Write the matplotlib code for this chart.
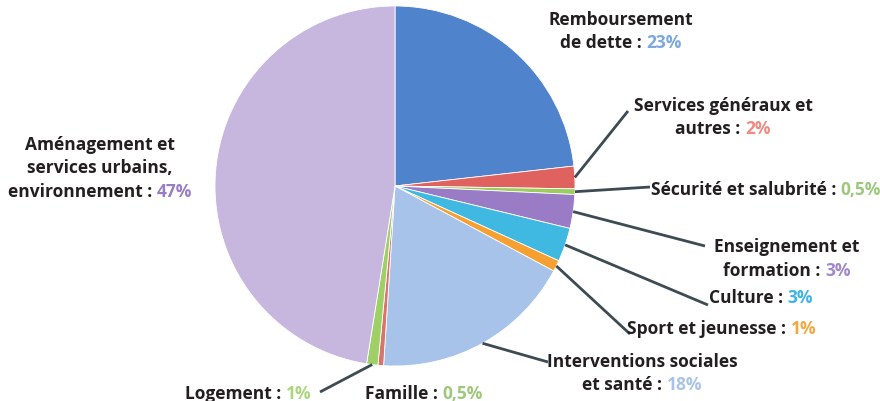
import matplotlib.pyplot as plt

# budget shares (clockwise from top)
categories = ["Remboursement de dette", "Services généraux et autres",
              "Sécurité et salubrité", "Enseignement et formation", "Culture",
              "Sport et jeunesse", "Interventions sociales et santé", "Famille",
              "Logement", "Aménagement et services urbains, environnement"]
values = [23, 2, 0.5, 3, 3, 1, 18, 0.5, 1, 47]
pct_labels = ["23%", "2%", "0,5%", "3%", "3%", "1%", "18%", "0,5%", "1%", "47%"]
label_lines = [["Remboursement", "de dette : "],
               ["Services généraux et", "autres : "],
               ["Sécurité et salubrité : "],
               ["Enseignement et", "formation : "],
               ["Culture : "],
               ["Sport et jeunesse : "],
               ["Interventions sociales", "et santé : "],
               ["Famille : "],
               ["Logement : "],
               ["Aménagement et", "services urbains,", "environnement : "]]

slice_colors = ["#4f83cc", "#e0625e", "#9ccc5c", "#9a7cc6", "#40b9e2",
                "#f5a030", "#a8c3ea", "#d8746a", "#9fd068", "#c7b6dd"]
pct_colors = ["#7ba8e0", "#f08a82", "#9dc87c", "#a287c9", "#3bb5e8",
              "#f4a842", "#a9c4e8", "#9dc87c", "#aad680", "#9a7cc4"]

W, H = 880, 402
# label centre (x, y of first line) and leader end point, in picture pixels (y down)
label_pos = [(621, 20), (723, 106), (766, 190), (787, 247), (761, 298),
             (722, 329), (642, 362), (424, 394), (248, 394), (100, 145)]
leader_end = [None, (628, 112), (650, 188), (705, 247), (708, 306),
              (630, 335), (548, 363), None, (320, 393), None]

plt.rcParams['font.family'] = ['Open Sans', 'DejaVu Sans']
fig = plt.figure(figsize=(8.8, 4.02), dpi=100)
ax = fig.add_axes([0, 0, 1, 1])

cx, cy, r = 395, H - 187, 180
wedges, _ = ax.pie(values, colors=slice_colors, startangle=90, counterclock=False,
                   center=(cx, cy), radius=r, frame=True,
                   wedgeprops=dict(edgecolor='white', linewidth=0.6))
ax.set_xlim(0, W)
ax.set_ylim(0, H)
ax.set_aspect('auto')
ax.axis('off')

import numpy as np
renderer = fig.canvas.get_renderer()
fs = 12.5
dark = "#231f20"
line_h = 23.5
for i, w in enumerate(wedges):
    lx, ly = label_pos[i]
    lines = label_lines[i]
    for j, line in enumerate(lines):
        y = H - (ly + j * line_h)
        if j < len(lines) - 1:
            ax.text(lx, y, line, ha='center', va='center', fontsize=fs,
                    fontweight='bold', color=dark)
        else:
            t1 = ax.text(0, y, line, ha='left', va='center', fontsize=fs,
                         fontweight='bold', color=dark)
            t2 = ax.text(0, y, pct_labels[i], ha='left', va='center', fontsize=fs,
                         fontweight='bold', color=pct_colors[i])
            w1 = t1.get_window_extent(renderer).width
            w2 = t2.get_window_extent(renderer).width
            x0 = lx - (w1 + w2) / 2
            t1.set_x(x0)
            t2.set_x(x0 + w1)
    if leader_end[i] is not None:
        mid = np.deg2rad((w.theta1 + w.theta2) / 2)
        sx, sy = cx + r * np.cos(mid), cy + r * np.sin(mid)
        ex, ey = leader_end[i]
        ax.plot([sx, ex], [sy, H - ey], color="#3d4b53", lw=2, solid_capstyle='butt')

fig.savefig("out.png", dpi=100)
